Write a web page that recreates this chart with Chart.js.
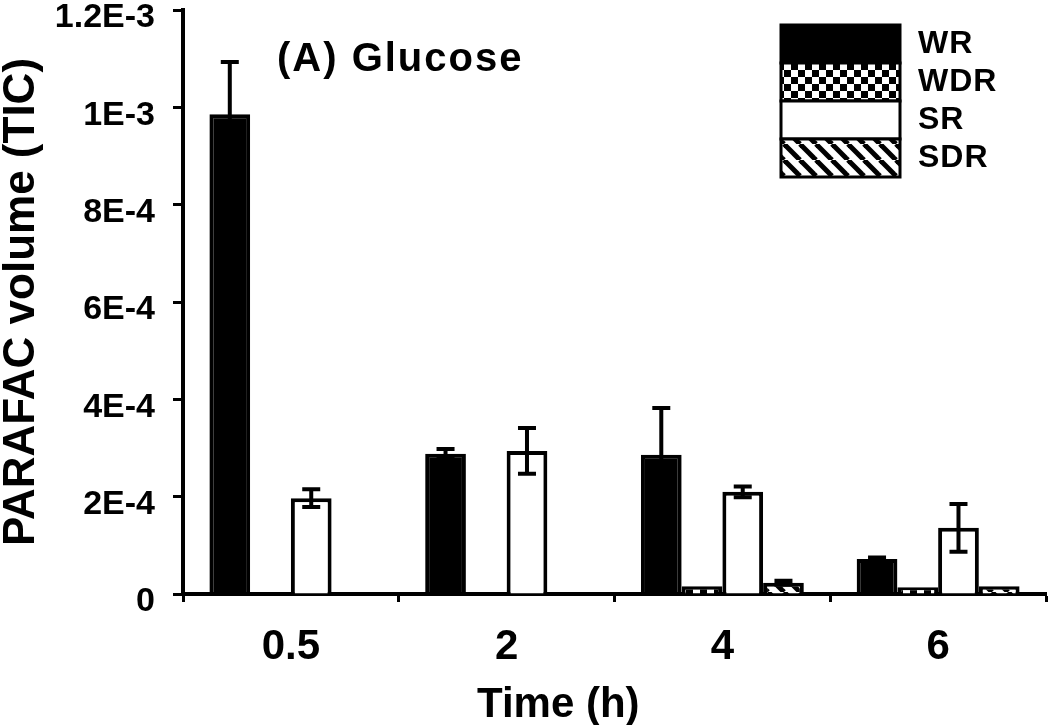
<!DOCTYPE html>
<html>
<head>
<meta charset="utf-8">
<script src="https://cdn.jsdelivr.net/npm/chart.js@4.4.1/dist/chart.umd.min.js"></script>
<style>
  html, body { margin: 0; padding: 0; background: #fff; }
  #wrap { width: 1050px; height: 725px; position: relative; }
</style>
</head>
<body>
<div id="wrap"><canvas id="chart"></canvas></div>
<script>
  // ---- datos ----
  const categories = ["0.5", "2", "4", "6"];
  const seriesNames = ["WR", "WDR", "SR", "SDR"];

  const wr     = [9.86e-4, 2.88e-4, 2.86e-4, 7.2e-5];
  const wrErr  = [1.07e-4, 1.0e-5, 9.6e-5, 3e-6];
  const wdr    = [0, 0, 1.6e-5, 1.4e-5];
  const wdrErr = [0, 0, 0, 0];
  const sr     = [1.97e-4, 2.94e-4, 2.1e-4, 1.36e-4];
  const srErr  = [1.8e-5, 4.7e-5, 1.1e-5, 4.9e-5];
  const sdr    = [0, 0, 2.3e-5, 1.6e-5];
  const sdrErr = [0, 0, 4e-6, 0];

  const yTickValues = [0, 2e-4, 4e-4, 6e-4, 8e-4, 1e-3, 1.2e-3];
  const yTickLabels = ["0", "2E-4", "4E-4", "6E-4", "8E-4", "1E-3", "1.2E-3"];

  const FONT = "'Liberation Sans', Arial, sans-serif";
  Chart.defaults.font.family = FONT;
  Chart.defaults.color = "#000";

  const canvas = document.getElementById("chart");
  const ctx0 = canvas.getContext("2d");

  // tramas
  function checkerPattern() {
    const c = document.createElement("canvas");
    c.width = 14; c.height = 14;
    const g = c.getContext("2d");
    g.fillStyle = "#fff"; g.fillRect(0, 0, 14, 14);
    g.fillStyle = "#000"; g.fillRect(0, 0, 7, 7); g.fillRect(7, 7, 7, 7);
    return ctx0.createPattern(c, "repeat");
  }

  function stripePattern() {
    const s = 16;
    const c = document.createElement("canvas");
    c.width = s; c.height = s;
    const g = c.getContext("2d");
    g.fillStyle = "#fff"; g.fillRect(0, 0, s, s);
    g.strokeStyle = "#000"; g.lineWidth = 5;
    [-s, 0, s].forEach(x0 => {
      g.beginPath(); g.moveTo(x0, 0); g.lineTo(x0 + s, s); g.stroke();
    });
    return ctx0.createPattern(c, "repeat");
  }

  // barras de error
  const errorBars = {
    id: "errorBars",
    afterDatasetsDraw(chart) {
      const ctx = chart.ctx, y = chart.scales.y;
      ctx.save();
      ctx.strokeStyle = "#000";
      ctx.lineWidth = 4;
      chart.data.datasets.forEach((ds, i) => {
        const meta = chart.getDatasetMeta(i);
        meta.data.forEach((bar, j) => {
          const e = ds.errors[j];
          if (!e) return;
          const v = ds.data[j];
          const top = y.getPixelForValue(v + e);
          const bot = y.getPixelForValue(Math.max(0, v - e));
          ctx.beginPath();
          ctx.moveTo(bar.x, top); ctx.lineTo(bar.x, bot);
          ctx.moveTo(bar.x - 9, top); ctx.lineTo(bar.x + 9, top);
          ctx.moveTo(bar.x - 9, bot); ctx.lineTo(bar.x + 9, bot);
          ctx.stroke();
        });
      });
      ctx.restore();
    }
  };

  // leyenda en caja + textos sueltos
  const extras = {
    id: "extras",
    afterDraw(chart) {
      const ctx = chart.ctx;
      ctx.save();
      const x0 = 781, w = 119, top = 25, h = 38;
      chart.data.datasets.forEach((ds, i) => {
        const yy = top + i * h;
        ctx.fillStyle = ds.backgroundColor;
        ctx.fillRect(x0, yy, w, h);
        ctx.lineWidth = 3;
        ctx.strokeStyle = "#000";
        ctx.strokeRect(x0, yy, w, h);
        ctx.fillStyle = "#000";
        ctx.font = "bold 32px " + FONT;
        ctx.textBaseline = "middle";
        ctx.textAlign = "left";
        ctx.letterSpacing = "1px";
        ctx.fillText(ds.label, 918, yy + h / 2);
      });

      ctx.letterSpacing = "2px";
      ctx.font = "bold 40px " + FONT;
      ctx.textBaseline = "alphabetic";
      ctx.fillText("(A) Glucose", 277, 71);

      ctx.letterSpacing = "0px";
      ctx.font = "bold 42px " + FONT;
      ctx.fillText("Time (h)", 477, 717);
      ctx.restore();
    }
  };

  const datasets = [
    { label: seriesNames[0], data: wr,  errors: wrErr,  backgroundColor: "#000" },
    { label: seriesNames[1], data: wdr, errors: wdrErr, backgroundColor: checkerPattern() },
    { label: seriesNames[2], data: sr,  errors: srErr,  backgroundColor: "#fff" },
    { label: seriesNames[3], data: sdr, errors: sdrErr, backgroundColor: stripePattern() }
  ].map(d => Object.assign(d, { borderColor: "#000", borderWidth: 4 }));

  new Chart(canvas, {
    type: "bar",
    data: { labels: categories, datasets },
    options: {
      responsive: true,
      maintainAspectRatio: false,
      animation: false,
      layout: { padding: { top: 10, right: 4, left: 0, bottom: 0 } },
      categoryPercentage: 0.755,
      barPercentage: 1.0,
      scales: {
        x: {
          z: 1,
          offset: true,
          grid: { display: true, offset: true, drawOnChartArea: false, tickLength: 8, tickColor: "#000", tickWidth: 3 },
          border: { display: true, color: "#000", width: 4 },
          ticks: { font: { size: 42, weight: "bold" }, padding: 20, maxRotation: 0 },
          afterFit(s) { s.height = 131; s.paddingLeft = 0; s.paddingRight = 0; }
        },
        y: {
          z: 1,
          min: 0,
          max: 1.2e-3,
          afterBuildTicks(s) { s.ticks = yTickValues.map(v => ({ value: v })); },
          grid: { display: true, drawOnChartArea: false, tickLength: 10, tickColor: "#000", tickWidth: 3 },
          border: { display: true, color: "#000", width: 4 },
          ticks: {
            font: { size: 34, weight: "bold" },
            padding: 18,
            labelOffset: 8,
            callback: (v, i) => yTickLabels[i]
          },
          title: {
            display: true,
            text: "PARAFAC volume (TIC)",
            font: { size: 44, weight: "bold", lineHeight: 1 },
            padding: { top: 0, bottom: 0 }
          },
          afterFit(s) { s.width = 183; s.paddingTop = 0; s.paddingBottom = 0; }
        }
      },
      plugins: {
        legend: { display: false },
        tooltip: { enabled: false }
      }
    },
    plugins: [errorBars, extras]
  });
</script>
</body>
</html>
